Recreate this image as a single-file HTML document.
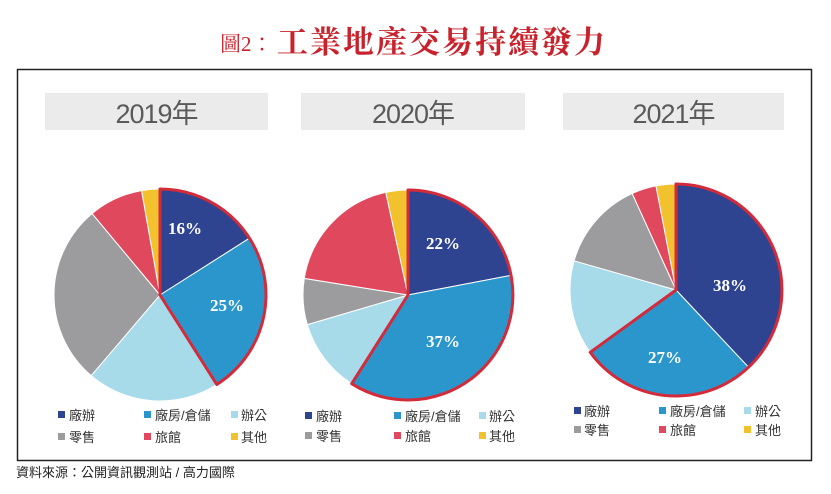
<!DOCTYPE html>
<html>
<head>
<meta charset="utf-8">
<style>
  html,body{margin:0;padding:0;background:#fff;}
  body{width:831px;height:494px;overflow:hidden;}
  svg{display:block;}
  .yr{font-family:"Liberation Sans","Noto Sans CJK TC",sans-serif;font-size:27px;fill:#5a5a5a;letter-spacing:-1px;}
  .lg{font-family:"Liberation Sans","Noto Sans CJK TC",sans-serif;font-size:13px;fill:#333;}
  .pct{font-family:"Liberation Serif","Noto Serif CJK SC",serif;font-size:17px;font-weight:bold;fill:#fff;}
</style>
</head>
<body>
<svg width="831" height="494" viewBox="0 0 831 494" xmlns="http://www.w3.org/2000/svg">
  <rect width="831" height="494" fill="#fff"/>

  <!-- Title -->
  <text x="220" y="51" font-family="'Liberation Serif','Noto Serif CJK TC',serif" font-size="21" fill="#c8232c">圖2：</text>
  <text x="277" y="53" font-family="'Liberation Serif','Noto Serif CJK TC',serif" font-size="31" font-weight="bold" letter-spacing="2" fill="#c8232c">工業地產交易持續發力</text>

  <!-- Frame -->
  <rect x="17.5" y="69.5" width="794" height="391" fill="none" stroke="#222" stroke-width="1.5"/>

  <!-- Year boxes -->
  <rect x="45" y="93" width="223" height="37" fill="#ebebeb"/>
  <rect x="301" y="93" width="224" height="37" fill="#ebebeb"/>
  <rect x="563" y="93" width="221" height="37" fill="#ebebeb"/>
  <text class="yr" x="156.5" y="123" text-anchor="middle">2019年</text>
  <text class="yr" x="413" y="123" text-anchor="middle">2020年</text>
  <text class="yr" x="673.5" y="123" text-anchor="middle">2021年</text>

  <!-- Pie 2019 -->
  <g stroke="#fff" stroke-width="1">
    <path d="M160,295 L160,189 A106,106 0 0 1 249.5,238.2 Z" fill="#2e4490"/>
    <path d="M160,295 L249.5,238.2 A106,106 0 0 1 216.8,384.5 Z" fill="#2a96cc"/>
    <path d="M160,295 L216.8,384.5 A106,106 0 0 1 91.2,375.6 Z" fill="#a8dbea"/>
    <path d="M160,295 L91.2,375.6 A106,106 0 0 1 92.1,213.6 Z" fill="#9c9c9e"/>
    <path d="M160,295 L92.1,213.6 A106,106 0 0 1 141.6,190.6 Z" fill="#e0485e"/>
    <path d="M160,295 L141.6,190.6 A106,106 0 0 1 160,189 Z" fill="#f2c12e"/>
  </g>
  <path d="M160,295 L160,189 A106,106 0 0 1 216.8,384.5 Z" fill="none" stroke="#d42b3b" stroke-width="3" stroke-linejoin="round"/>
  <text class="pct" x="185" y="234" text-anchor="middle">16%</text>
  <text class="pct" x="227" y="311" text-anchor="middle">25%</text>

  <!-- Pie 2020 -->
  <g stroke="#fff" stroke-width="1">
    <path d="M408,295 L408,190 A105,105 0 0 1 511.1,275.3 Z" fill="#2e4490"/>
    <path d="M408,295 L511.1,275.3 A105,105 0 0 1 351.7,383.7 Z" fill="#2a96cc"/>
    <path d="M408,295 L351.7,383.7 A105,105 0 0 1 307.3,324.6 Z" fill="#a8dbea"/>
    <path d="M408,295 L307.3,324.6 A105,105 0 0 1 304.3,278.4 Z" fill="#9c9c9e"/>
    <path d="M408,295 L304.3,278.4 A105,105 0 0 1 385.8,192.4 Z" fill="#e0485e"/>
    <path d="M408,295 L385.8,192.4 A105,105 0 0 1 408,190 Z" fill="#f2c12e"/>
  </g>
  <path d="M408,295 L408,190 A105,105 0 1 1 351.7,383.7 Z" fill="none" stroke="#d42b3b" stroke-width="3" stroke-linejoin="round"/>
  <text class="pct" x="443" y="249" text-anchor="middle">22%</text>
  <text class="pct" x="443" y="347" text-anchor="middle">37%</text>

  <!-- Pie 2021 -->
  <g stroke="#fff" stroke-width="1">
    <path d="M676,290 L676,184 A106,106 0 0 1 748.6,367.3 Z" fill="#2e4490"/>
    <path d="M676,290 L748.6,367.3 A106,106 0 0 1 590.2,352.3 Z" fill="#2a96cc"/>
    <path d="M676,290 L590.2,352.3 A106,106 0 0 1 574.1,260.8 Z" fill="#a8dbea"/>
    <path d="M676,290 L574.1,260.8 A106,106 0 0 1 632.2,193.5 Z" fill="#9c9c9e"/>
    <path d="M676,290 L632.2,193.5 A106,106 0 0 1 656.0,185.9 Z" fill="#e0485e"/>
    <path d="M676,290 L656.0,185.9 A106,106 0 0 1 676,184 Z" fill="#f2c12e"/>
  </g>
  <path d="M676,290 L676,184 A106,106 0 1 1 590.2,352.3 Z" fill="none" stroke="#d42b3b" stroke-width="3" stroke-linejoin="round"/>
  <text class="pct" x="730" y="291" text-anchor="middle">38%</text>
  <text class="pct" x="665" y="363" text-anchor="middle">27%</text>

  <!-- Legend 2019 -->
  <rect x="58" y="411" width="7" height="7" fill="#2e4490"/>
  <text class="lg" x="69" y="420">廠辦</text>
  <rect x="144" y="411" width="7" height="7" fill="#2a96cc"/>
  <text class="lg" x="155" y="420">廠房/倉儲</text>
  <rect x="231" y="411" width="7" height="7" fill="#a8dbea"/>
  <text class="lg" x="241" y="420">辦公</text>
  <rect x="58" y="433" width="7" height="7" fill="#9c9c9e"/>
  <text class="lg" x="69" y="442">零售</text>
  <rect x="144" y="433" width="7" height="7" fill="#e0485e"/>
  <text class="lg" x="155" y="442">旅館</text>
  <rect x="231" y="433" width="7" height="7" fill="#f2c12e"/>
  <text class="lg" x="241" y="442">其他</text>

  <!-- Legend 2020 -->
  <rect x="305" y="412" width="7" height="7" fill="#2e4490"/>
  <text class="lg" x="316" y="421">廠辦</text>
  <rect x="394" y="412" width="7" height="7" fill="#2a96cc"/>
  <text class="lg" x="405" y="421">廠房/倉儲</text>
  <rect x="479" y="412" width="7" height="7" fill="#a8dbea"/>
  <text class="lg" x="489" y="421">辦公</text>
  <rect x="305" y="432" width="7" height="7" fill="#9c9c9e"/>
  <text class="lg" x="316" y="441">零售</text>
  <rect x="394" y="432" width="7" height="7" fill="#e0485e"/>
  <text class="lg" x="405" y="441">旅館</text>
  <rect x="479" y="432" width="7" height="7" fill="#f2c12e"/>
  <text class="lg" x="489" y="441">其他</text>

  <!-- Legend 2021 -->
  <rect x="574" y="407" width="7" height="7" fill="#2e4490"/>
  <text class="lg" x="584" y="416">廠辦</text>
  <rect x="659" y="407" width="7" height="7" fill="#2a96cc"/>
  <text class="lg" x="670" y="416">廠房/倉儲</text>
  <rect x="744" y="407" width="7" height="7" fill="#a8dbea"/>
  <text class="lg" x="755" y="416">辦公</text>
  <rect x="574" y="426" width="7" height="7" fill="#9c9c9e"/>
  <text class="lg" x="584" y="435">零售</text>
  <rect x="659" y="426" width="7" height="7" fill="#e0485e"/>
  <text class="lg" x="670" y="435">旅館</text>
  <rect x="744" y="426" width="7" height="7" fill="#f2c12e"/>
  <text class="lg" x="755" y="435">其他</text>

  <!-- Source -->
  <text x="16" y="477" font-family="'Liberation Sans','Noto Sans CJK TC',sans-serif" font-size="13" fill="#222">資料來源：公開資訊觀測站 / 高力國際</text>
</svg>
</body>
</html>
